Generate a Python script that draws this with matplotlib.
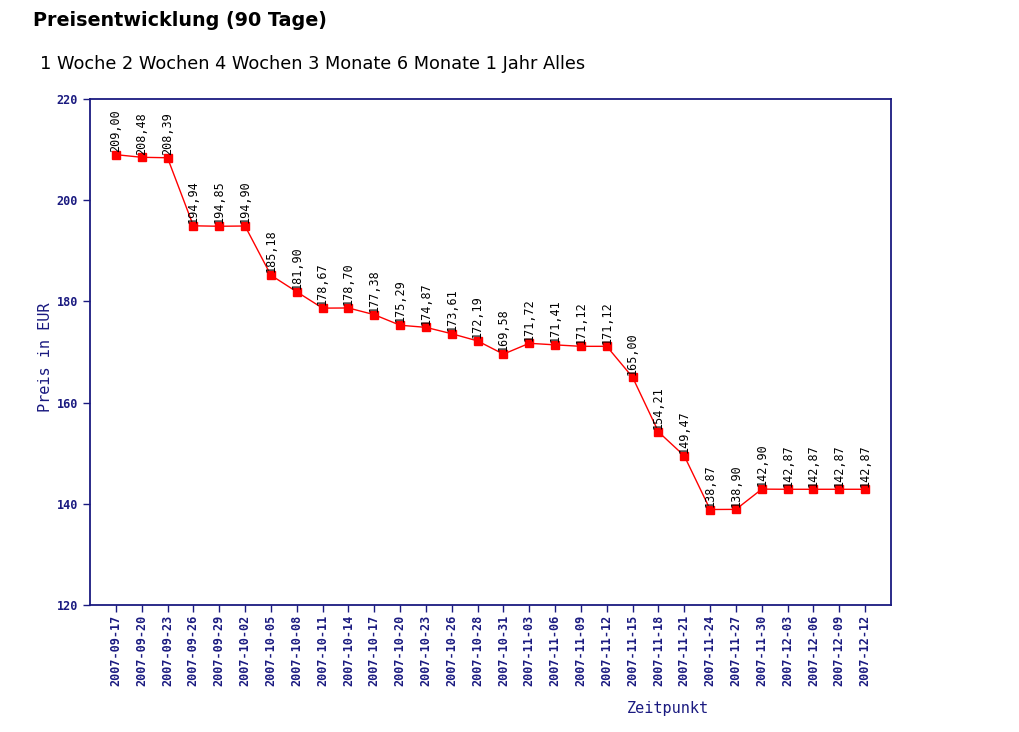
import matplotlib
matplotlib.use("Agg")
import matplotlib.pyplot as plt

dates = ["2007-09-17", "2007-09-20", "2007-09-23", "2007-09-26", "2007-09-29",
         "2007-10-02", "2007-10-05", "2007-10-08", "2007-10-11", "2007-10-14",
         "2007-10-17", "2007-10-20", "2007-10-23", "2007-10-26", "2007-10-28",
         "2007-10-31", "2007-11-03", "2007-11-06", "2007-11-09", "2007-11-12",
         "2007-11-15", "2007-11-18", "2007-11-21", "2007-11-24", "2007-11-27",
         "2007-11-30", "2007-12-03", "2007-12-06", "2007-12-09", "2007-12-12"]
prices = [209.00, 208.48, 208.39, 194.94, 194.85, 194.90, 185.18, 181.90, 178.67, 178.70,
          177.38, 175.29, 174.87, 173.61, 172.19, 169.58, 171.72, 171.41, 171.12, 171.12,
          165.00, 154.21, 149.47, 138.87, 138.90, 142.90, 142.87, 142.87, 142.87, 142.87]
yticks = [120, 140, 160, 180, 200, 220]

navy = "#1a1a80"
fig = plt.figure(figsize=(10.2, 7.32), dpi=100)
ax = fig.add_axes([90/1020, 1-605/732, 801/1020, 506/732])

x = list(range(len(dates)))
ax.plot(x, prices, color="#ff0000", lw=1.0, marker="s", markersize=6, zorder=3)
for xi, p in zip(x, prices):
    ax.annotate(f"{p:.2f}".replace(".", ","), (xi, p), xytext=(0, 2),
                textcoords="offset points", rotation=90, ha="center", va="bottom",
                fontsize=8.5, family="DejaVu Sans Mono", color="black")

ax.set_xlim(-1, 30)
ax.set_ylim(120, 220)
ax.set_yticks(yticks)
ax.set_yticklabels([str(t) for t in yticks], fontsize=8.5, fontweight="bold",
                   color=navy, family="DejaVu Sans Mono")
ax.set_xticks(x)
ax.set_xticklabels(dates, rotation=90, fontsize=8.5, color=navy,
                   family="DejaVu Sans Mono", fontweight="bold")
ax.tick_params(axis="both", color=navy, length=5, width=1, direction="out")
ax.tick_params(axis="x", pad=2)
for s in ax.spines.values():
    s.set_color(navy)
    s.set_linewidth(1.3)

fig.text(45/1020, 1-357/732, "Preis in EUR", rotation=90, ha="center", va="center",
         fontsize=11, color=navy, family="DejaVu Sans Mono")
fig.text(668/1020, 1-709/732, "Zeitpunkt", ha="center", va="center",
         fontsize=11, color=navy, family="DejaVu Sans Mono")
fig.text(33/1020, 1-20/732, "Preisentwicklung (90 Tage)", ha="left", va="center",
         fontsize=13.8, fontweight="bold", color="black")
fig.text(40/1020, 1-64/732, "1 Woche 2 Wochen 4 Wochen 3 Monate 6 Monate 1 Jahr Alles",
         ha="left", va="center", fontsize=12.8, color="black")

fig.savefig("out.png", dpi=100)
